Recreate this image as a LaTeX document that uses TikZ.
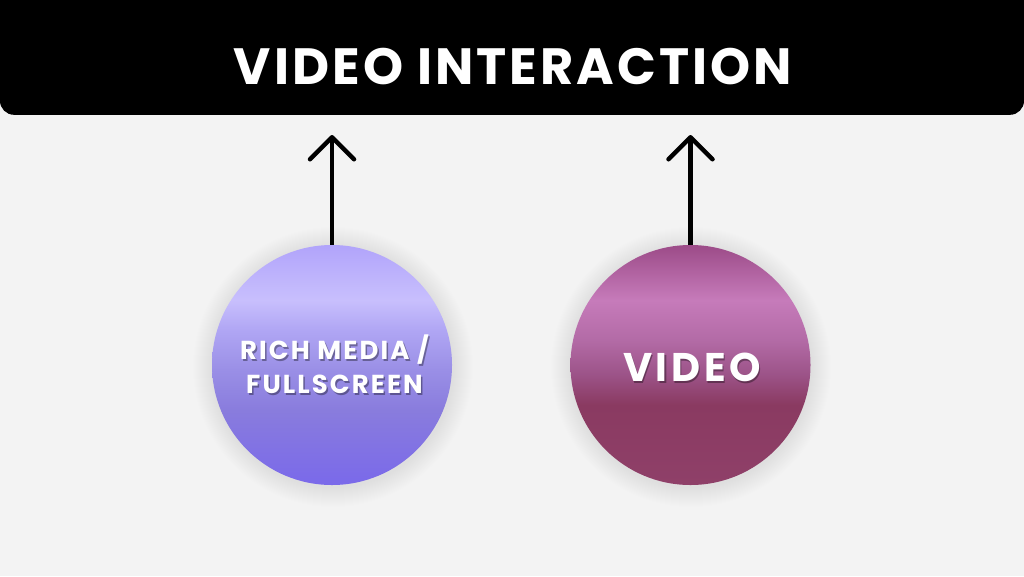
\documentclass[tikz,border=0pt]{standalone}
\usepackage{fontspec}
\usetikzlibrary{arrows.meta}
\newfontfamily\titlefont{Poppins}[LetterSpace=6]
\newfontfamily\circfont{Poppins}[LetterSpace=8]
\newfontfamily\vidfont{Poppins}[LetterSpace=9]
\definecolor{bgc}{HTML}{F3F3F3}
\definecolor{lavT}{HTML}{B1A4FB}
\definecolor{lavL}{HTML}{C8BFFD}
\definecolor{lavA}{HTML}{B0A6F4}
\definecolor{lavM}{HTML}{9A8FE6}
\definecolor{lavD}{HTML}{897CDD}
\definecolor{lavB}{HTML}{7A69EA}
\definecolor{magT}{HTML}{9C4B88}
\definecolor{magL}{HTML}{C67BBA}
\definecolor{magA}{HTML}{B36BA6}
\definecolor{magM}{HTML}{9C5388}
\definecolor{magD}{HTML}{8A3A61}
\definecolor{magB}{HTML}{8F4069}
\pgfdeclareverticalshading{lavshade}{100bp}{color(0bp)=(lavB); color(25bp)=(lavB); color(40.6bp)=(lavD); color(49bp)=(lavM); color(57.3bp)=(lavA); color(63.5bp)=(lavL); color(75bp)=(lavT); color(100bp)=(lavT)}
\pgfdeclareverticalshading{magshade}{100bp}{color(0bp)=(magB); color(25bp)=(magB); color(41.7bp)=(magD); color(48bp)=(magM); color(55.2bp)=(magA); color(63.5bp)=(magL); color(75bp)=(magT); color(100bp)=(magT)}
\tikzset{
  bubble/.style={circle, inner sep=0pt, minimum size=240pt},
  bubtext/.style={text=white, align=center, inner sep=0pt, anchor=base},
  bubshadow/.style={text=black, text opacity=0.35, align=center, inner sep=0pt, anchor=base},
  smallfont/.style={font=\circfont\bfseries\fontsize{26}{34}\selectfont},
  bigfont/.style={font=\vidfont\bfseries\fontsize{40}{40}\selectfont},
  uparrow/.style={line width=4.5pt, -{Straight Barb[length=22pt, width=44pt, round]}, shorten >=20pt}
}
\begin{document}
\begin{tikzpicture}[x=1pt, y=-1pt]
\useasboundingbox (0,0) rectangle (1024,576);
\clip (0,0) rectangle (1024,576);
\fill[bgc] (0,0) rectangle (1024,576);
% banner
\node[fill=black, rounded corners=14pt, minimum width=1024pt, minimum height=160pt, inner sep=0pt, anchor=south] (banner) at (512,115) {};
\node[text=white, font=\titlefont\bfseries\fontsize{51}{51}\selectfont, anchor=base, inner sep=0pt] (title) at (513,84) {VIDEO INTERACTION};
% soft shadows
\foreach \i in {1,...,20} {
  \fill[black, opacity=0.0055] (333,367) circle ({120+\i});
  \fill[black, opacity=0.0055] (691,367) circle ({120+\i});
}
% circles
\node[bubble, shading=lavshade] (c1) at (332,365) {};
\node[bubble, shading=magshade] (c2) at (690.5,365) {};
% texts
\node[bubshadow, smallfont] at (336,361) {RICH MEDIA /};
\node[bubtext, smallfont] (t1a) at (334.5,359) {RICH MEDIA /};
\node[bubshadow, smallfont] at (336,395) {FULLSCREEN};
\node[bubtext, smallfont] (t1b) at (334.5,393) {FULLSCREEN};
\node[bubshadow, bigfont] at (693.5,383) {VIDEO};
\node[bubtext, bigfont] (t2) at (692,381) {VIDEO};
% arrows
\draw[uparrow] (c1.north) -- (c1.north |- banner.south);
\draw[uparrow] (c2.north) -- (c2.north |- banner.south);
\end{tikzpicture}
\end{document}
